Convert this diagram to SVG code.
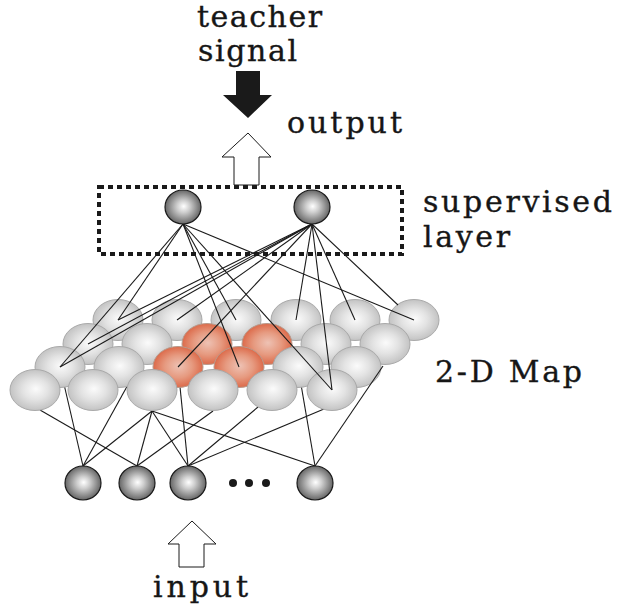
<svg xmlns="http://www.w3.org/2000/svg" width="617" height="611" viewBox="0 0 617 611">
<style>
.lbl{font-family:"DejaVu Serif","Liberation Serif",serif;font-size:30px;fill:#161616;stroke:#161616;stroke-width:0.35}
.map{stroke:#a9a9a9;stroke-width:1;fill:url(#gBall)}
.red{stroke:#b89a8c;stroke-width:1;fill:url(#gRed)}
.unit{stroke:#1a1a1a;stroke-width:1.2;fill:url(#gUnit)}
.ln{stroke:#1a1a1a;stroke-width:1.1;fill:none}
</style>
<defs>
<radialGradient id="gBall" cx="50%" cy="50%" r="50%" fx="52%" fy="47%">
<stop offset="0" stop-color="#fbfbfb"/><stop offset="0.5" stop-color="#e3e3e3"/><stop offset="1" stop-color="#c3c3c3"/>
</radialGradient>
<radialGradient id="gRed" cx="50%" cy="50%" r="50%" fx="52%" fy="47%">
<stop offset="0" stop-color="#eec2b4"/><stop offset="0.55" stop-color="#e69a80"/><stop offset="1" stop-color="#dc6a4a"/>
</radialGradient>
<radialGradient id="gUnit" cx="50%" cy="50%" r="50%" fx="52%" fy="48%">
<stop offset="0" stop-color="#ffffff"/><stop offset="0.35" stop-color="#cfcfcf"/><stop offset="1" stop-color="#666666"/>
</radialGradient>
</defs>
<rect width="617" height="611" fill="#ffffff"/>

<g id="labels">
<text class="lbl" x="197" y="27" textLength="125" lengthAdjust="spacing">teacher</text>
<text class="lbl" x="198" y="61" textLength="99" lengthAdjust="spacing">signal</text>
<text class="lbl" x="287" y="133" textLength="115" lengthAdjust="spacing">output</text>
<text class="lbl" x="423" y="212" textLength="189" lengthAdjust="spacing">supervised</text>
<text class="lbl" x="423" y="247" textLength="87" lengthAdjust="spacing">layer</text>
<text class="lbl" x="435" y="382" textLength="147" lengthAdjust="spacing">2-D Map</text>
<text class="lbl" x="153" y="597" textLength="95" lengthAdjust="spacing">input</text>
</g>

<g id="teacher-arrow"><polygon points="236,71 260,71 260,95 272,95 248,118 223,95 236,95" fill="#1a1a1a"/></g>
<g id="output-arrow"><polygon points="248,133 271,157 259,157 259,185 234,185 234,157 222,157" fill="#fff" stroke="#1a1a1a" stroke-width="1"/></g>
<g id="input-arrow"><polygon points="192,521 216,544 204,544 204,567 179,567 179,544 168,544" fill="#fff" stroke="#1a1a1a" stroke-width="1"/></g>

<g id="supervised-layer-box"><rect x="99" y="187" width="303" height="67" fill="none" stroke="#1a1a1a" stroke-width="4" stroke-dasharray="5 4"/></g>

<g id="connectors-input">
<line class="ln" x1="83" y1="466" x2="60" y2="367"/>
<line class="ln" x1="83" y1="466" x2="135" y2="372"/>
<line class="ln" x1="83" y1="466" x2="152" y2="411"/>
<line class="ln" x1="137" y1="466" x2="40" y2="410"/>
<line class="ln" x1="137" y1="466" x2="152" y2="411"/>
<line class="ln" x1="137" y1="466" x2="213" y2="411"/>
<line class="ln" x1="188" y1="466" x2="178" y2="367"/>
<line class="ln" x1="188" y1="466" x2="152" y2="411"/>
<line class="ln" x1="188" y1="466" x2="258" y2="407"/>
<line class="ln" x1="188" y1="466" x2="324" y2="409"/>
<line class="ln" x1="315" y1="466" x2="152" y2="411"/>
<line class="ln" x1="315" y1="466" x2="298" y2="367"/>
</g>

<g id="map">
<g id="m1-1"><ellipse class="map" cx="118" cy="320" rx="25" ry="20.5"/></g>
<g id="m1-2"><ellipse class="map" cx="177" cy="320" rx="25" ry="20.5"/></g>
<g id="m1-3"><ellipse class="map" cx="236" cy="320" rx="25" ry="20.5"/></g>
<g id="m1-4"><ellipse class="map" cx="296" cy="320" rx="25" ry="20.5"/></g>
<g id="m1-5"><ellipse class="map" cx="355" cy="320" rx="25" ry="20.5"/></g>
<g id="m1-6"><ellipse class="map" cx="414" cy="320" rx="25" ry="20.5"/></g>
<g id="m2-1"><ellipse class="map" cx="88" cy="344" rx="25" ry="20.5"/></g>
<g id="m2-2"><ellipse class="map" cx="147" cy="344" rx="25" ry="20.5"/></g>
<g id="m2-3"><ellipse class="red" cx="207" cy="344" rx="25" ry="20.5"/></g>
<g id="m2-4"><ellipse class="red" cx="267" cy="344" rx="25" ry="20.5"/></g>
<g id="m2-5"><ellipse class="map" cx="326" cy="344" rx="25" ry="20.5"/></g>
<g id="m2-6"><ellipse class="map" cx="385" cy="344" rx="25" ry="20.5"/></g>
<g id="m3-1"><ellipse class="map" cx="60" cy="367" rx="25" ry="20.5"/></g>
<g id="m3-2"><ellipse class="map" cx="119" cy="367" rx="25" ry="20.5"/></g>
<g id="m3-3"><ellipse class="red" cx="178" cy="367" rx="25" ry="20.5"/></g>
<g id="m3-4"><ellipse class="red" cx="239" cy="367" rx="25" ry="20.5"/></g>
<g id="m3-5"><ellipse class="map" cx="298" cy="367" rx="25" ry="20.5"/></g>
<g id="m3-6"><ellipse class="map" cx="356" cy="367" rx="25" ry="20.5"/></g>
<g id="m4-1"><ellipse class="map" cx="35" cy="390" rx="25" ry="20.5"/></g>
<g id="m4-2"><ellipse class="map" cx="93" cy="390" rx="25" ry="20.5"/></g>
<g id="m4-3"><ellipse class="map" cx="152" cy="390" rx="25" ry="20.5"/></g>
<g id="m4-4"><ellipse class="map" cx="213" cy="390" rx="25" ry="20.5"/></g>
<g id="m4-5"><ellipse class="map" cx="272" cy="390" rx="25" ry="20.5"/></g>
<g id="m4-6"><ellipse class="map" cx="332" cy="390" rx="25" ry="20.5"/></g>
</g>

<g id="connectors-supervised">
<line class="ln" x1="315" y1="466" x2="383" y2="366"/>
<line class="ln" x1="183" y1="224" x2="60" y2="367"/>
<line class="ln" x1="183" y1="224" x2="118" y2="320"/>
<line class="ln" x1="183" y1="224" x2="239" y2="367"/>
<line class="ln" x1="183" y1="224" x2="236" y2="320"/>
<line class="ln" x1="183" y1="224" x2="332" y2="390"/>
<line class="ln" x1="183" y1="224" x2="414" y2="320"/>
<line class="ln" x1="312" y1="224" x2="118" y2="320"/>
<line class="ln" x1="312" y1="224" x2="88" y2="344"/>
<line class="ln" x1="312" y1="224" x2="60" y2="367"/>
<line class="ln" x1="312" y1="224" x2="177" y2="320"/>
<line class="ln" x1="312" y1="224" x2="178" y2="367"/>
<line class="ln" x1="312" y1="224" x2="296" y2="320"/>
<line class="ln" x1="312" y1="224" x2="332" y2="390"/>
<line class="ln" x1="312" y1="224" x2="355" y2="320"/>
<line class="ln" x1="312" y1="224" x2="398" y2="305"/>
</g>

<g id="s1"><ellipse class="unit" cx="183" cy="207" rx="18" ry="17"/></g>
<g id="s2"><ellipse class="unit" cx="312" cy="207" rx="18" ry="17"/></g>

<g id="in1"><ellipse class="unit" cx="83" cy="483" rx="18" ry="17"/></g>
<g id="in2"><ellipse class="unit" cx="137" cy="483" rx="18" ry="17"/></g>
<g id="in3"><ellipse class="unit" cx="188" cy="483" rx="18" ry="17"/></g>
<g id="ellipsis"><circle cx="233" cy="483" r="4" fill="#1a1a1a"/><circle cx="249" cy="483" r="4" fill="#1a1a1a"/><circle cx="266" cy="483" r="4" fill="#1a1a1a"/></g>
<g id="in4"><ellipse class="unit" cx="315" cy="483" rx="18" ry="17"/></g>
</svg>
